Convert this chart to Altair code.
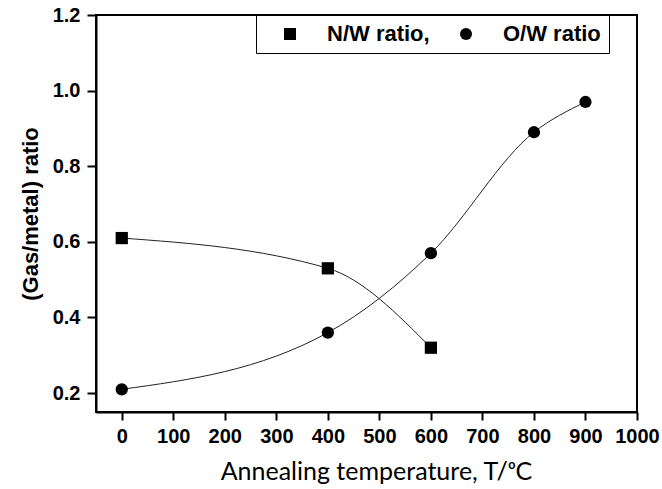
import altair as alt
import pandas as pd

# ---- data ----
series_names = ["N/W ratio,", "O/W ratio"]
nw_temp = [0, 400, 600]
nw_ratio = [0.61, 0.53, 0.32]
ow_temp = [0, 400, 600, 800, 900]
ow_ratio = [0.21, 0.36, 0.57, 0.89, 0.97]
x_ticks = [0, 100, 200, 300, 400, 500, 600, 700, 800, 900, 1000]
y_ticks = [0.2, 0.4, 0.6, 0.8, 1.0, 1.2]

df = pd.DataFrame({
    "series": [series_names[0]] * len(nw_temp) + [series_names[1]] * len(ow_temp),
    "temp": nw_temp + ow_temp,
    "ratio": nw_ratio + ow_ratio,
})

xscale = alt.Scale(domain=[-50, 1000], nice=False, zero=False)
yscale = alt.Scale(domain=[0.15, 1.2], nice=False, zero=False)

X = alt.X("temp:Q", scale=xscale,
          axis=alt.Axis(values=x_ticks, format="d", labelOverlap=False,
                        labelFlush=False,
                        title="Annealing temperature, T/ᵒC",
                        labelFont="Liberation Sans", labelFontWeight="bold",
                        labelFontSize=20, labelPadding=6, tickSize=8,
                        titleFont="Lato", titleFontWeight="normal",
                        titleFontSize=25, titlePadding=13, titleX=280))
Y = alt.Y("ratio:Q", scale=yscale,
          axis=alt.Axis(values=y_ticks, format=".1f", title="(Gas/metal) ratio",
                        labelFont="Liberation Sans", labelFontWeight="bold",
                        labelFontSize=20, labelPadding=7, tickSize=9,
                        labelFlush=False,
                        titleFont="Liberation Sans", titleFontWeight="bold",
                        titleFontSize=22, titlePadding=10))

base = alt.Chart(df)

fits = base.mark_line(
    color="#222222", strokeWidth=1, interpolate="monotone"
).encode(x=X, y=Y, detail="series:N")

pts = base.mark_point(filled=True, size=150, opacity=1, color="black").encode(
    x=X, y=Y,
    shape=alt.Shape("series:N",
                    scale=alt.Scale(domain=series_names, range=["square", "circle"]),
                    legend=alt.Legend(
                        title=None, orient="none", legendX=160, legendY=0,
                        direction="horizontal", padding=8, strokeColor="black",
                        fillColor="white",
                        symbolSize=144, symbolFillColor="black",
                        symbolStrokeColor="black", symbolStrokeWidth=0,
                        symbolOffset=15, labelOffset=26, columnPadding=10,
                        labelFont="Liberation Sans", labelFontSize=22,
                        labelFontWeight="bold", labelColor="black",
                        labelExpr="datum.label == 'O/W ratio' ? datum.label + '\u00a0\u00a0\u00a0\u00a0' : datum.label",
                    )),
)

chart = alt.layer(fits, pts).properties(
    width=541, height=397,
    autosize=alt.AutoSizeParams(type="none"),
    padding={"left": 96, "top": 15, "right": 25, "bottom": 77},
    background="white",
).configure_view(
    stroke="black", strokeWidth=2
).configure_axis(
    grid=False, domainColor="black", domainWidth=2, tickColor="black",
    tickWidth=2, labelColor="black", titleColor="black",
)

chart.save("out.html", embed_options={"renderer": "svg", "actions": False})
